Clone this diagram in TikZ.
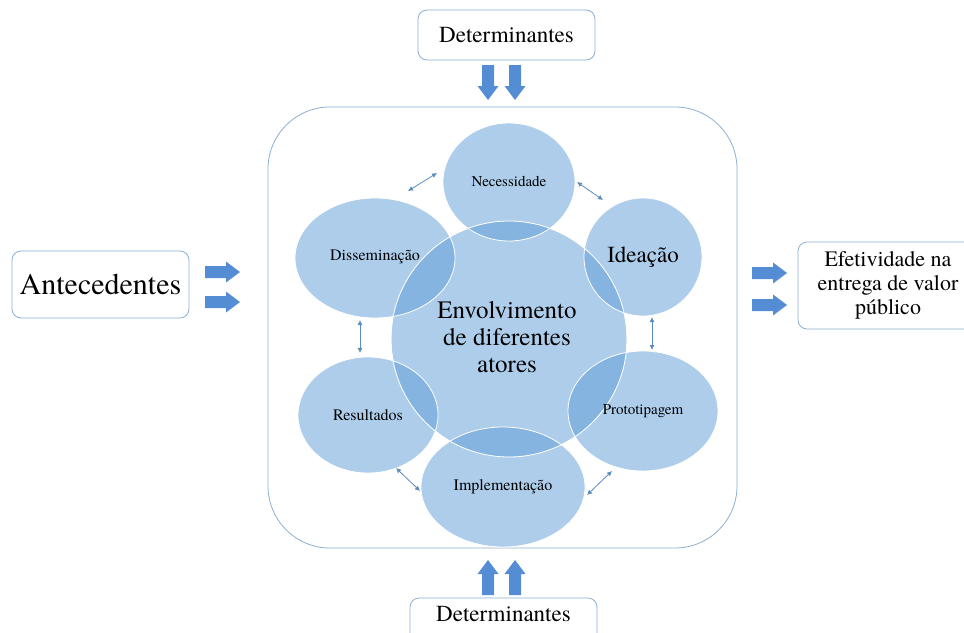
\documentclass[tikz,border=0pt]{standalone}
\usepackage{fontspec}
\setmainfont{texgyretermes}[Extension=.otf,UprightFont=*-regular,BoldFont=*-bold,ItalicFont=*-italic,BoldItalicFont=*-bolditalic]
\usetikzlibrary{arrows.meta}
\definecolor{bub}{RGB}{91,155,213}
\definecolor{edge}{RGB}{140,175,210}
\definecolor{arr}{RGB}{84,141,212}
\definecolor{thin}{RGB}{90,140,190}
\begin{document}
\begin{tikzpicture}[x=1pt,y=-1pt,
  box/.style={draw=edge,line width=0.8pt,rounded corners=9pt,fill=white,align=center,inner sep=0pt},
  bubble/.style={fill=bub,fill opacity=0.5,draw=white,draw opacity=1,line width=0.8pt},
  lbl/.style={font=\fontsize{15}{17}\selectfont,align=center,text=black},
  dbl/.style={draw=thin,line width=0.8pt,{Latex[length=5pt,width=5pt]}-{Latex[length=5pt,width=5pt]}},
  pics/barrow/.style={code={\fill[arr] (0,-6)--(21,-6)--(21,-10.5)--(35,0)--(21,10.5)--(21,6)--(0,6)--cycle;}}
]
\useasboundingbox (0,0) rectangle (964,632);
% frame
\draw[draw=edge,line width=0.8pt,rounded corners=62pt] (268,107) rectangle (737,548);
% boxes
\node[box,minimum width=177pt,minimum height=50pt,font=\fontsize{23}{25}\selectfont] (topd) at (506.5,35) {Determinantes};
\draw[draw=edge,line width=0.8pt,rounded corners=9pt,fill=white] (410,598) rectangle (597,660);
\node[lbl,font=\fontsize{23}{25}\selectfont] (botd) at (503.5,614) {Determinantes};
\node[box,minimum width=177pt,minimum height=67pt,font=\fontsize{30}{32}\selectfont] (ante) at (100.5,284.5) {Antecedentes};
\node[box,minimum width=180pt,minimum height=87pt,font=\fontsize{22}{24}\selectfont] (efet) at (888,285.5) {Efetividade na\\entrega de valor\\público};
% block arrows
\pic at (488,65) [rotate=-90] {barrow};
\pic at (515,65) [rotate=-90] {barrow};
\pic at (488,595) [rotate=90] {barrow};
\pic at (515,595) [rotate=90] {barrow};
\pic at (205,272) {barrow};
\pic at (205,302) {barrow};
\pic at (752,273) {barrow};
\pic at (752,305) {barrow};
% bubbles
\fill[bubble] (509,339) circle (118);
\draw[bubble] (509,182) ellipse (66 and 59);
\draw[bubble] (643,257) ellipse (59 and 59);
\draw[bubble] (375,258) ellipse (80 and 60);
\draw[bubble] (368,415) ellipse (70 and 58);
\draw[bubble] (643,411) ellipse (75 and 60);
\draw[bubble] (503,487) ellipse (82 and 60);
\draw[draw=white,line width=0.8pt] (509,339) circle (118);
% labels
\node[lbl,font=\fontsize{25}{27}\selectfont] (env) at (507,337) {Envolvimento\\de diferentes\\atores};
\node[lbl] (nec) at (509,181) {Necessidade};
\node[lbl,font=\fontsize{23}{25}\selectfont] (ide) at (643,257) {Ideação};
\node[lbl,font=\fontsize{16}{18}\selectfont] (dis) at (375,257) {Disseminação};
\node[lbl,font=\fontsize{16}{18}\selectfont] (res) at (368,415) {Resultados};
\node[lbl] (pro) at (643,411) {Prototipagem};
\node[lbl,font=\fontsize{16}{18}\selectfont] (imp) at (503,487) {Implementação};
% small double arrows
\coordinate (a1) at (408,191); \coordinate (b1) at (437,173);
\coordinate (a2) at (577,182); \coordinate (b2) at (603,200);
\coordinate (a3) at (652,317); \coordinate (b3) at (652,350);
\coordinate (a4) at (360,320); \coordinate (b4) at (360,353);
\coordinate (a5) at (396,468); \coordinate (b5) at (420,491);
\coordinate (a6) at (587,495); \coordinate (b6) at (612,471);
\draw[dbl] (a1) -- (b1);
\draw[dbl] (a2) -- (b2);
\draw[dbl] (a3) -- (b3);
\draw[dbl] (a4) -- (b4);
\draw[dbl] (a5) -- (b5);
\draw[dbl] (a6) -- (b6);
\end{tikzpicture}
\end{document}
